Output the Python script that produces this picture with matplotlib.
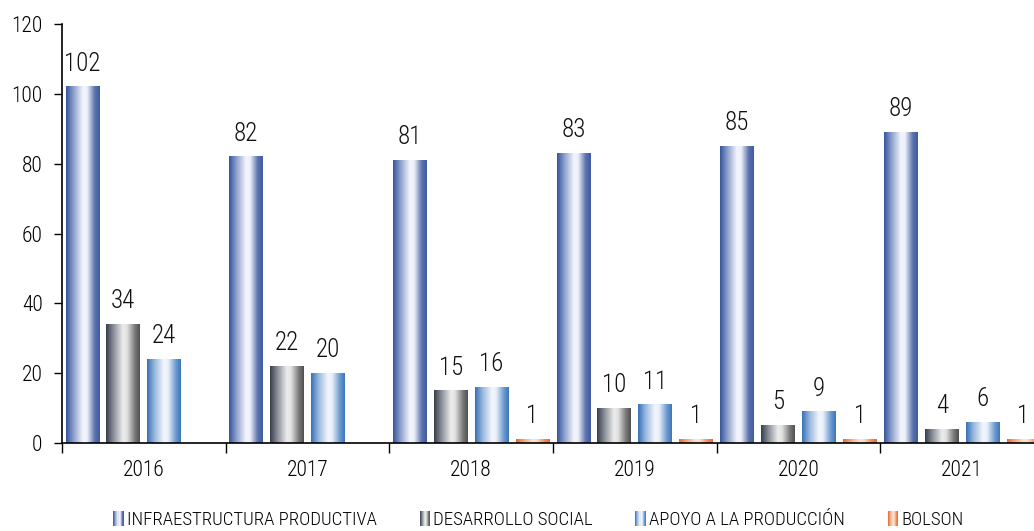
import numpy as np
import matplotlib
matplotlib.use("Agg")
import matplotlib.pyplot as plt
from matplotlib.colors import LinearSegmentedColormap
from matplotlib.patches import Rectangle
from matplotlib.legend_handler import HandlerBase

years = ["2016", "2017", "2018", "2019", "2020", "2021"]
series_names = ["INFRAESTRUCTURA PRODUCTIVA", "DESARROLLO SOCIAL",
                "APOYO A LA PRODUCCIÓN", "BOLSON"]
infra = [102, 82, 81, 83, 85, 89]
desarrollo = [34, 22, 15, 10, 5, 4]
apoyo = [24, 20, 16, 11, 9, 6]
bolson = [None, None, 1, 1, 1, 1]
series = [infra, desarrollo, apoyo, bolson]

# gradient stops: left edge, light center, right edge
grad_colors = [
    ["#34549c", "#8da0cc", "#f2f5fb", "#eef1f9", "#5a72ad", "#3f5aa0"],
    ["#363e4c", "#8a8f98", "#ececec", "#e2e2e2", "#7a7a7a", "#4f4f4f"],
    ["#3570b5", "#98b7de", "#f2f6fc", "#eaf0f9", "#6e9bd0", "#3a76bb"],
    ["#e8692c", "#f4a679", "#fbe6da", "#fadccb", "#f08a54", "#e86a2e"],
]
stops = [0.0, 0.22, 0.5, 0.62, 0.85, 1.0]
cmaps = [LinearSegmentedColormap.from_list(f"g{i}", list(zip(stops, c)))
         for i, c in enumerate(grad_colors)]

plt.rcParams['font.family'] = ['Roboto Condensed', 'Liberation Sans', 'DejaVu Sans']
plt.rcParams['font.weight'] = 'light'

fig = plt.figure(figsize=(10.34, 5.31), dpi=100)
W, H = 1034, 531
ax = fig.add_axes([62 / W, (H - 443) / H, (1044 - 62) / W, (443 - 24) / H])

n_groups = len(years)
slot = 0.25
bw = 0.207
grad = np.linspace(0, 1, 256).reshape(1, -1)

for si, vals in enumerate(series):
    xs = [g + slot * (si + 0.5) for g in range(n_groups) if vals[g] is not None]
    hs = [vals[g] for g in range(n_groups) if vals[g] is not None]
    bars = ax.bar(xs, hs, width=bw, facecolor="none", edgecolor="none", zorder=2)
    for b, v in zip(bars, hs):
        x0 = b.get_x()
        w = b.get_width()
        h = b.get_height()
        ax.imshow(grad, cmap=cmaps[si], extent=[x0, x0 + w, 0, h],
                  aspect="auto", zorder=2, interpolation="bilinear")
        ax.text(x0 + w / 2, h + 4.6, str(v), ha="center", va="baseline",
                fontsize=18, color="#111111")

ax.set_xlim(0, n_groups)
ax.set_ylim(0, 120)
ax.set_yticks(range(0, 121, 20))
ax.tick_params(axis="y", direction="out", length=6, width=1, labelsize=15.5, pad=8)
ax.set_xticks(range(0, n_groups + 1))
ax.set_xticklabels([])
ax.set_xticks([g + 0.5 for g in range(n_groups)], minor=True)
ax.set_xticklabels(years, minor=True)
ax.tick_params(axis="x", which="major", direction="out", length=7, width=1)
ax.tick_params(axis="x", which="minor", length=0, labelsize=15.5, pad=12)
for s in ["top", "right"]:
    ax.spines[s].set_visible(False)
for s in ["left", "bottom"]:
    ax.spines[s].set_linewidth(1.2)
    ax.spines[s].set_color("black")


class GradHandler(HandlerBase):
    def __init__(self, cmap):
        super().__init__()
        self.cmap = cmap

    def create_artists(self, legend, orig_handle, xdescent, ydescent, width,
                       height, fontsize, trans):
        arts = []
        n = 10
        w = width * 0.9
        x0 = -xdescent + width - w
        for i in range(n):
            r = Rectangle((x0 + i * w / n, -ydescent), w / n + 0.3, height,
                          facecolor=self.cmap((i + 0.5) / n), edgecolor="none",
                          transform=trans)
            arts.append(r)
        return arts


handles = [Rectangle((0, 0), 1, 1) for _ in series_names]
handler_map = {h: GradHandler(cm) for h, cm in zip(handles, cmaps)}
fig.legend(handles, series_names, handler_map=handler_map, loc="center",
           bbox_to_anchor=(538 / W, 1 - 520 / H), ncol=4, frameon=False,
           fontsize=13.5, handlelength=0.6, handleheight=0.85, handletextpad=0.2,
           columnspacing=2.2)

fig.savefig("out.png", dpi=100)
